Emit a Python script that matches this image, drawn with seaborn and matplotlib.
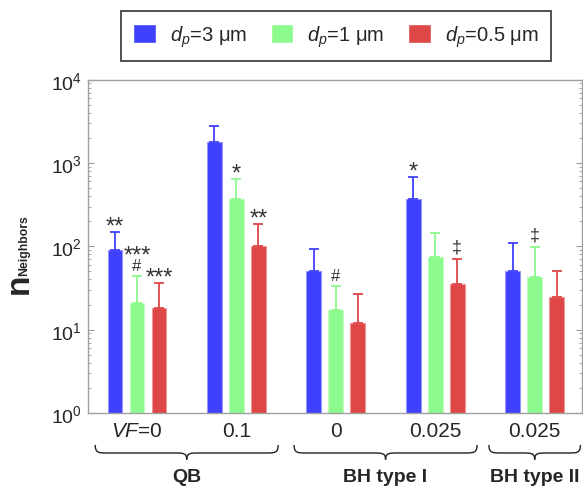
import matplotlib
matplotlib.use('Agg')

import numpy as np
import pandas as pd
import seaborn as sns
import matplotlib.pyplot as plt
from matplotlib.path import Path
from matplotlib.patches import PathPatch
import matplotlib.transforms as mtransforms
import matplotlib.colors as mcolors

# categories (unique keys) and what is printed under each group of bars
conditions = ['QB 0', 'QB 0.1', 'BH-I 0', 'BH-I 0.025', 'BH-II 0.025']
tick_labels = [r'$\mathit{VF}$=0', '0.1', '0', '0.025', '0.025']
sizes = [r'$d_p$=3 μm', r'$d_p$=1 μm', r'$d_p$=0.5 μm']

# mean number of neighbours and the upper error (sd)
n_3um = [90, 1800, 50, 370, 50]
err_3um = [60, 1000, 43, 310, 60]
n_1um = [21, 370, 17, 75, 43]
err_1um = [23, 280, 16, 71, 56]
n_05um = [18, 100, 12, 35, 25]
err_05um = [18, 86, 15, 35, 25]

# bracket groups: (label, first condition index, last condition index)
brackets = [('QB', 0, 1), ('BH type I', 2, 3), ('BH type II', 4, 4)]

# significance marks: (condition index, size index, marks from bottom to top)
sig_marks = [
    (0, 0, ['**']),
    (0, 1, ['#', '***']),
    (0, 2, ['***']),
    (1, 1, ['*']),
    (1, 2, ['**']),
    (2, 1, ['#']),
    (3, 0, ['*']),
    (3, 2, ['‡']),
    (4, 1, ['‡']),
]

colors = ['#4040ff', '#8cfa8c', '#df4646']

sns.set_style('white')
plt.rcParams['font.family'] = ['Liberation Sans', 'DejaVu Sans']
plt.rcParams['mathtext.fontset'] = 'custom'
plt.rcParams['mathtext.rm'] = 'Liberation Sans'
plt.rcParams['mathtext.it'] = 'Liberation Sans:italic'
plt.rcParams['mathtext.bf'] = 'Liberation Sans:bold'

values = [n_3um, n_1um, n_05um]
errors = [err_3um, err_1um, err_05um]
df = pd.DataFrame({
    'condition': np.tile(conditions, len(sizes)),
    'size': np.repeat(sizes, len(conditions)),
    'n': np.concatenate(values),
})

fig = plt.figure(figsize=(5.83, 4.89), dpi=100)
ax = fig.add_axes([0.1504, 0.1534, 0.8474, 0.6816])

sns.barplot(data=df, x='condition', y='n', hue='size', order=conditions,
            hue_order=sizes, palette=colors, saturation=1, errorbar=None,
            width=0.664, gap=0.33, legend=True, ax=ax)
ax.set_yscale('log')
bars = list(ax.containers)

# lighter outline + upper error bars
for k, cont in enumerate(bars):
    edge = mcolors.to_rgb(colors[k])
    edge = tuple(c + (1 - c) * 0.45 for c in edge)
    xs = []
    for p in cont.patches:
        p.set_edgecolor(edge)
        p.set_linewidth(0.8)
        xs.append(p.get_x() + p.get_width() / 2)
    ax.errorbar(xs, values[k], yerr=[np.zeros(len(xs)), errors[k]], fmt='none',
                ecolor=colors[k], elinewidth=1.3, capsize=3.5, capthick=1.3, zorder=1)

# significance symbols: fontsize, height of the glyph centre above baseline (px)
glyph = {'*': (17, 9), '**': (17, 9), '***': (17, 9), '#': (12, 5.8), '‡': (13, 4.6)}
for ci, si, marks in sig_marks:
    p = bars[si].patches[ci]
    xc = p.get_x() + p.get_width() / 2
    top = values[si][ci] + errors[si][ci]
    for lev, m in enumerate(marks):
        fs, gc = glyph[m]
        centre_px = (8.5 if m.startswith('*') else 12) + lev * 15.5
        ax.annotate(m, xy=(xc, top), xytext=(0, (centre_px - gc) * 0.72),
                    textcoords='offset points', ha='center', va='baseline',
                    fontsize=fs, color='#333333')

ax.set_ylim(1, 1e4)
ax.set_xlim(-0.496, 4.473)
ax.set_xticks(range(len(conditions)))
ax.set_xticklabels(tick_labels, fontsize=15)
ax.set_xlabel('')
ax.set_ylabel('')
ax.tick_params(axis='x', length=0, pad=6)
ax.tick_params(axis='y', which='both', direction='in', left=True, right=True,
               color='#999999', labelsize=14, pad=4)
ax.tick_params(axis='y', which='major', length=4)
ax.tick_params(axis='y', which='minor', length=2.5)
for s in ax.spines.values():
    s.set_color('#a0a0a0')
    s.set_linewidth(1)

# curly braces and group names under the tick labels
trans = mtransforms.blended_transform_factory(ax.transData, ax.transAxes)
yt, yc, yb, r = -0.096, -0.12, -0.14, 0.12
for name, i0, i1 in brackets:
    hw = 0.46 * (i1 - i0 + 1)
    xm = (i0 + i1) / 2
    x0, x1 = xm - hw, xm + hw
    verts = [(x0, yt), (x0, yc), (x0 + r * 0.3, yc), (x0 + r, yc),
             (xm - r, yc),
             (xm - r * 0.3, yc), (xm, yc), (xm, yb),
             (xm, yc), (xm + r * 0.3, yc), (xm + r, yc),
             (x1 - r, yc),
             (x1 - r * 0.3, yc), (x1, yc), (x1, yt)]
    codes = [Path.MOVETO, Path.CURVE4, Path.CURVE4, Path.CURVE4,
             Path.LINETO,
             Path.CURVE4, Path.CURVE4, Path.CURVE4,
             Path.CURVE4, Path.CURVE4, Path.CURVE4,
             Path.LINETO,
             Path.CURVE4, Path.CURVE4, Path.CURVE4]
    ax.add_patch(PathPatch(Path(verts, codes), transform=trans, fill=False,
                           edgecolor='#222222', lw=1.0, clip_on=False))
    ax.text(xm, -0.192, name, transform=trans, ha='center', va='center',
            fontsize=14, fontweight='bold')

# y label: big bold n with small bold subscript
fig.text(19 / 583, 1 - 284 / 489, 'n', rotation=90, ha='center', va='center',
         fontsize=24, fontweight='bold')
fig.text(24 / 583, 1 - 246 / 489, 'Neighbors', rotation=90, ha='center', va='center',
         fontsize=8.8, fontweight='bold')

sns.move_legend(ax, loc='center', bbox_to_anchor=(0.5026, 1.131), ncol=3, title=None,
                frameon=True, fancybox=False, edgecolor='black', fontsize=14.5,
                handlelength=1.1, handleheight=1.05, handletextpad=0.7,
                columnspacing=1.2, borderpad=0.6)
ax.get_legend().get_frame().set_linewidth(1.2)

fig.savefig('out.png', dpi=100)
